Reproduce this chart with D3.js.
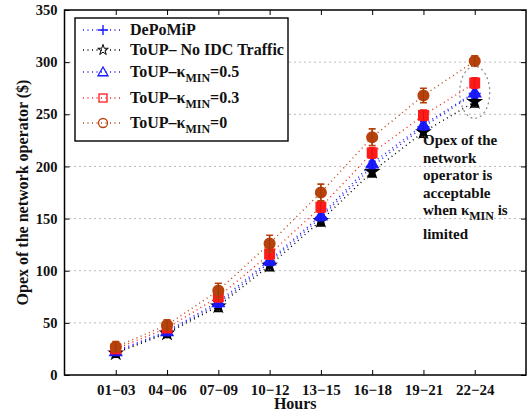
<!DOCTYPE html>
<html>
<head>
<meta charset="utf-8">
<script src="https://cdn.jsdelivr.net/npm/d3@7"></script>
<style>
  body { margin: 0; background: #fff; }
  svg text { font-family: "Liberation Serif", "Times New Roman", serif; font-weight: bold; }
</style>
</head>
<body>
<svg id="chart" width="529" height="417"></svg>
<script>
var hours = ['01\u221203', '04\u221206', '07\u221209', '10\u221212', '13\u221215', '16\u221218', '19\u221221', '22\u221224'];
var yTicks = [0, 50, 100, 150, 200, 250, 300, 350];

var depomip = [22, 41, 68, 108, 151, 200, 238, 270];
var noIdc = [21, 40, 66, 105, 148, 195, 233, 262];
var kappa05 = [23, 42, 70, 110, 153, 203, 240, 271];
var kappa03 = [25, 45, 75, 116, 161, 213, 249, 280];
var kappa0 = [27, 48, 81, 126, 175, 228, 268, 301];
var errSmall = [4, 4, 5, 5, 5, 5, 5, 5];
var errK0 = [5, 5, 7, 8, 8, 8, 7, 5];

var series = [
  { name: 'DePoMiP', values: depomip, err: errSmall, color: '#1a1aff', marker: 'plus' },
  { name: 'ToUP\u2013 No IDC Traffic', values: noIdc, err: errSmall, color: '#000000', marker: 'star' },
  { name: 'ToUP\u2013\u03ba', sub: 'MIN', tail: '=0.5', values: kappa05, err: errSmall, color: '#1a1aff', marker: 'triangle' },
  { name: 'ToUP\u2013\u03ba', sub: 'MIN', tail: '=0.3', values: kappa03, err: errSmall, color: '#ff1a1a', marker: 'square' },
  { name: 'ToUP\u2013\u03ba', sub: 'MIN', tail: '=0', values: kappa0, err: errK0, color: '#b8420c', marker: 'circle' }
];

var svg = d3.select('#chart');
var margin = { left: 64.5, right: 3, top: 10, bottom: 42 };
var w = 529, h = 417;

var x = d3.scaleLinear().domain([0, hours.length + 1]).range([margin.left, w - margin.right]);
var y = d3.scaleLinear().domain([0, 350]).range([h - margin.bottom, margin.top]);

// grid
svg.append('g').selectAll('line').data(yTicks.slice(1, -1)).join('line')
  .attr('x1', x(0)).attr('x2', x(hours.length + 1))
  .attr('y1', function(d) { return y(d); }).attr('y2', function(d) { return y(d); })
  .attr('stroke', '#555').attr('stroke-width', 0.8).attr('stroke-dasharray', '1,4');

// axes
var xIdx = d3.range(1, hours.length + 1);
svg.append('g').attr('transform', 'translate(0,' + y(0) + ')')
  .call(d3.axisBottom(x).tickValues(xIdx).tickSize(-5).tickPadding(9).tickFormat(function(d) { return hours[d - 1]; }))
  .call(function(g) { g.select('.domain').remove(); g.selectAll('text').attr('font-size', 15).attr('fill', '#111'); });
svg.append('g').attr('transform', 'translate(0,' + y(350) + ')')
  .call(d3.axisTop(x).tickValues(xIdx).tickSize(-5).tickFormat(''))
  .call(function(g) { g.select('.domain').remove(); });
svg.append('g').attr('transform', 'translate(' + x(0) + ',0)')
  .call(d3.axisLeft(y).tickValues(yTicks).tickSize(-5).tickPadding(7))
  .call(function(g) { g.select('.domain').remove(); g.selectAll('text').attr('font-size', 14.5).attr('fill', '#111'); });
svg.append('g').attr('transform', 'translate(' + x(hours.length + 1) + ',0)')
  .call(d3.axisRight(y).tickValues(yTicks).tickSize(-5).tickFormat(''))
  .call(function(g) { g.select('.domain').remove(); });
svg.append('rect')
  .attr('x', x(0)).attr('y', y(350))
  .attr('width', x(hours.length + 1) - x(0)).attr('height', y(0) - y(350))
  .attr('fill', 'none').attr('stroke', '#000').attr('stroke-width', 1.5);

svg.append('text').attr('x', (x(0) + x(hours.length + 1)) / 2).attr('y', 409)
  .attr('text-anchor', 'middle').attr('font-size', 16).attr('fill', '#111').text('Hours');
svg.append('text').attr('transform', 'translate(28,' + y(175) + ') rotate(-90)')
  .attr('text-anchor', 'middle').attr('font-size', 16).attr('fill', '#111').text('Opex of the network operator ($)');

// markers
function drawMarker(g, type, color, filled, size) {
  var fill = filled ? color : 'none';
  if (type === 'plus') {
    g.append('path').attr('d', 'M' + (-size) + ',0H' + size + 'M0,' + (-size) + 'V' + size)
      .attr('stroke', color).attr('stroke-width', 1.4).attr('fill', 'none');
  } else if (type === 'star') {
    g.append('path').attr('d', d3.symbol(d3.symbolStar, size * size * 1.4)())
      .attr('fill', filled ? color : 'none').attr('stroke', color).attr('stroke-width', filled ? 1.3 : 1);
  } else if (type === 'triangle') {
    var s = size;
    g.append('path').attr('d', 'M0,' + (-s) + 'L' + s + ',' + (s * 0.75) + 'L' + (-s) + ',' + (s * 0.75) + 'Z')
      .attr('fill', fill).attr('stroke', color).attr('stroke-width', 1.3);
  } else if (type === 'square') {
    g.append('rect').attr('x', -size * 0.8).attr('y', -size * 0.8).attr('width', size * 1.6).attr('height', size * 1.6)
      .attr('fill', fill).attr('stroke', color).attr('stroke-width', 1.3);
  } else if (type === 'circle') {
    g.append('circle').attr('r', size * 0.9).attr('fill', fill).attr('stroke', color).attr('stroke-width', 1.3);
  }
}

var line = d3.line().x(function(d, i) { return x(i + 1); }).y(function(d) { return y(d); });

series.forEach(function(s) {
  svg.append('path').datum(s.values).attr('d', line)
    .attr('fill', 'none').attr('stroke', s.color).attr('stroke-width', 1.4).attr('stroke-dasharray', '1,3.5');
});

series.forEach(function(s) {
  var g = svg.append('g');
  s.values.forEach(function(v, i) {
    var cx = x(i + 1), e = s.err[i];
    g.append('path')
      .attr('d', 'M' + cx + ',' + y(v - e) + 'V' + y(v + e) +
        'M' + (cx - 3.5) + ',' + y(v - e) + 'H' + (cx + 3.5) +
        'M' + (cx - 3.5) + ',' + y(v + e) + 'H' + (cx + 3.5))
      .attr('stroke', s.color).attr('stroke-width', 1.6).attr('fill', 'none');
    var m = g.append('g').attr('transform', 'translate(' + cx + ',' + y(v) + ')');
    drawMarker(m, s.marker, s.color, s.marker !== 'plus', 6);
    g.append('path')
      .attr('d', 'M' + cx + ',' + y(v - e) + 'V' + y(v + e))
      .attr('stroke', d3.color(s.color).darker(0.8)).attr('stroke-width', 1).attr('opacity', 0.6);
  });
});

// highlight ellipse near the last group
svg.append('ellipse')
  .attr('cx', x(hours.length)).attr('cy', y(d3.mean([noIdc[7], kappa03[7]])))
  .attr('rx', 15).attr('ry', 26)
  .attr('fill', 'none').attr('stroke', '#888').attr('stroke-width', 1.2).attr('stroke-dasharray', '2,3');

// annotation
var noteLines = ['Opex of the', 'network', 'operator is', 'acceptable'];
var noteY = [145, 162.5, 180, 197.5];
noteLines.forEach(function(t, i) {
  svg.append('text').attr('x', 423).attr('y', noteY[i]).attr('font-size', 15).attr('fill', '#111').text(t);
});
var whenT = svg.append('text').attr('x', 423).attr('y', 215).attr('font-size', 15).attr('fill', '#111');
whenT.append('tspan').text('when \u03ba');
whenT.append('tspan').attr('dy', 5).attr('font-size', 12).text('MIN');
whenT.append('tspan').attr('dy', -5).text(' is');
svg.append('text').attr('x', 423).attr('y', 239).attr('font-size', 15).attr('fill', '#111').text('limited');

// legend
var leg = svg.append('g');
leg.append('rect').attr('x', 75).attr('y', 18).attr('width', 213).attr('height', 123)
  .attr('fill', '#fff').attr('stroke', '#000').attr('stroke-width', 1.4);
var legY = [30, 50, 72, 98, 123];
series.forEach(function(s, i) {
  var ly = legY[i];
  leg.append('line').attr('x1', 83).attr('x2', 121).attr('y1', ly).attr('y2', ly)
    .attr('stroke', s.color).attr('stroke-width', 1.4).attr('stroke-dasharray', '1,3.5');
  var m = leg.append('g').attr('transform', 'translate(103,' + ly + ')');
  drawMarker(m, s.marker, s.color, false, 5);
  var t = leg.append('text').attr('x', 130).attr('y', ly + 5).attr('font-size', 16).attr('fill', '#111');
  t.append('tspan').text(s.name);
  if (s.sub) {
    t.append('tspan').attr('dy', 5).attr('font-size', 12).text(s.sub);
    t.append('tspan').attr('dy', -5).text(s.tail);
  }
});
</script>
</body>
</html>
